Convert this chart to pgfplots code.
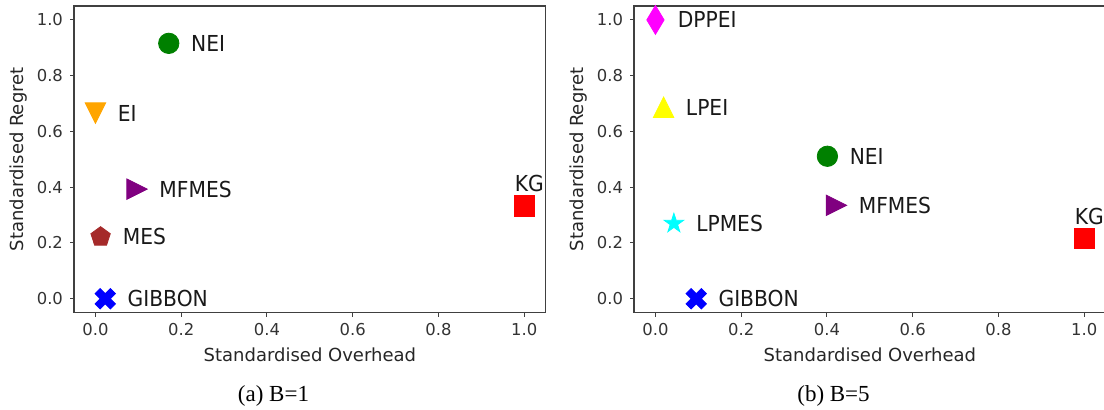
\documentclass[border=0pt]{standalone}
\usepackage{fontspec}
\setmainfont{DejaVu Sans}
\newfontfamily\annfont{DejaVu Sans}[FakeStretch=0.92]
\newfontfamily\capfont{Liberation Serif}
\usepackage{pgfplots}
\pgfplotsset{compat=1.18}

\definecolor{mgreen}{HTML}{008000}
\definecolor{morange}{HTML}{FFA500}
\definecolor{mpurple}{HTML}{800080}
\definecolor{mbrown}{HTML}{A52A2A}
\definecolor{mblue}{HTML}{0000FF}
\definecolor{mred}{HTML}{FF0000}
\definecolor{mmagenta}{HTML}{FF00FF}
\definecolor{myellow}{HTML}{FFFF00}
\definecolor{mcyan}{HTML}{00FFFF}

% matplotlib-like markers, \pgfplotmarksize = half the marker size
\pgfdeclareplotmark{mcircle}{\pgfpathcircle{\pgfpointorigin}{\pgfplotmarksize}\pgfusepathqfillstroke}
\pgfdeclareplotmark{msquare}{\pgfpathrectangle{\pgfpoint{-\pgfplotmarksize}{-\pgfplotmarksize}}{\pgfpoint{2\pgfplotmarksize}{2\pgfplotmarksize}}\pgfusepathqfillstroke}
\pgfdeclareplotmark{mtridown}{%
  \pgfpathmoveto{\pgfpoint{0pt}{-\pgfplotmarksize}}
  \pgfpathlineto{\pgfpoint{-\pgfplotmarksize}{\pgfplotmarksize}}
  \pgfpathlineto{\pgfpoint{\pgfplotmarksize}{\pgfplotmarksize}}
  \pgfpathclose\pgfusepathqfillstroke}
\pgfdeclareplotmark{mtriup}{%
  \pgfpathmoveto{\pgfpoint{0pt}{\pgfplotmarksize}}
  \pgfpathlineto{\pgfpoint{-\pgfplotmarksize}{-\pgfplotmarksize}}
  \pgfpathlineto{\pgfpoint{\pgfplotmarksize}{-\pgfplotmarksize}}
  \pgfpathclose\pgfusepathqfillstroke}
\pgfdeclareplotmark{mtriright}{%
  \pgfpathmoveto{\pgfpoint{\pgfplotmarksize}{0pt}}
  \pgfpathlineto{\pgfpoint{-\pgfplotmarksize}{\pgfplotmarksize}}
  \pgfpathlineto{\pgfpoint{-\pgfplotmarksize}{-\pgfplotmarksize}}
  \pgfpathclose\pgfusepathqfillstroke}
\pgfdeclareplotmark{mpent}{%
  \pgfpathmoveto{\pgfpointpolar{90}{\pgfplotmarksize}}
  \pgfpathlineto{\pgfpointpolar{162}{\pgfplotmarksize}}
  \pgfpathlineto{\pgfpointpolar{234}{\pgfplotmarksize}}
  \pgfpathlineto{\pgfpointpolar{306}{\pgfplotmarksize}}
  \pgfpathlineto{\pgfpointpolar{18}{\pgfplotmarksize}}
  \pgfpathclose\pgfusepathqfillstroke}
\pgfdeclareplotmark{mthindiamond}{%
  \pgfpathmoveto{\pgfpoint{0pt}{1.414\pgfplotmarksize}}
  \pgfpathlineto{\pgfpoint{-0.849\pgfplotmarksize}{0pt}}
  \pgfpathlineto{\pgfpoint{0pt}{-1.414\pgfplotmarksize}}
  \pgfpathlineto{\pgfpoint{0.849\pgfplotmarksize}{0pt}}
  \pgfpathclose\pgfusepathqfillstroke}
\pgfdeclareplotmark{mstar}{%
  \pgfpathmoveto{\pgfpointpolar{90}{\pgfplotmarksize}}
  \pgfpathlineto{\pgfpointpolar{126}{0.382\pgfplotmarksize}}
  \pgfpathlineto{\pgfpointpolar{162}{\pgfplotmarksize}}
  \pgfpathlineto{\pgfpointpolar{198}{0.382\pgfplotmarksize}}
  \pgfpathlineto{\pgfpointpolar{234}{\pgfplotmarksize}}
  \pgfpathlineto{\pgfpointpolar{270}{0.382\pgfplotmarksize}}
  \pgfpathlineto{\pgfpointpolar{306}{\pgfplotmarksize}}
  \pgfpathlineto{\pgfpointpolar{342}{0.382\pgfplotmarksize}}
  \pgfpathlineto{\pgfpointpolar{18}{\pgfplotmarksize}}
  \pgfpathlineto{\pgfpointpolar{54}{0.382\pgfplotmarksize}}
  \pgfpathclose\pgfusepathqfillstroke}
\pgfdeclareplotmark{mxfilled}{%
  \pgfpathmoveto{\pgfpoint{-0.5\pgfplotmarksize}{-\pgfplotmarksize}}
  \pgfpathlineto{\pgfpoint{0pt}{-0.5\pgfplotmarksize}}
  \pgfpathlineto{\pgfpoint{0.5\pgfplotmarksize}{-\pgfplotmarksize}}
  \pgfpathlineto{\pgfpoint{\pgfplotmarksize}{-0.5\pgfplotmarksize}}
  \pgfpathlineto{\pgfpoint{0.5\pgfplotmarksize}{0pt}}
  \pgfpathlineto{\pgfpoint{\pgfplotmarksize}{0.5\pgfplotmarksize}}
  \pgfpathlineto{\pgfpoint{0.5\pgfplotmarksize}{\pgfplotmarksize}}
  \pgfpathlineto{\pgfpoint{0pt}{0.5\pgfplotmarksize}}
  \pgfpathlineto{\pgfpoint{-0.5\pgfplotmarksize}{\pgfplotmarksize}}
  \pgfpathlineto{\pgfpoint{-\pgfplotmarksize}{0.5\pgfplotmarksize}}
  \pgfpathlineto{\pgfpoint{-0.5\pgfplotmarksize}{0pt}}
  \pgfpathlineto{\pgfpoint{-\pgfplotmarksize}{-0.5\pgfplotmarksize}}
  \pgfpathclose\pgfusepathqfillstroke}

\pgfplotsset{
  panel/.style={
    scale only axis, width=235.85pt, height=153.35pt,
    anchor=north west, clip=false,
    xmin=-0.05, xmax=1.05, ymin=-0.05, ymax=1.05,
    xtick={0,0.2,0.4,0.6,0.8,1.0}, ytick={0,0.2,0.4,0.6,0.8,1.0},
    tick pos=left, tick align=outside, major tick length=2pt,
    tick style={black!75, line width=0.5pt},
    axis line style={black!75, line width=0.6pt},
    /pgf/number format/.cd, fixed, fixed zerofill, precision=1, assume math mode=true, /pgfplots/.cd,
    tick label style={font=\fontsize{8.2}{9}\selectfont, text=black!80},
    xlabel={Standardised Overhead}, ylabel={Standardised Regret},
    every axis x label/.style={at={(rel axis cs:0.5,-0.138)}, anchor=center,
      font=\fontsize{9}{10}\selectfont, text=black!85},
    every axis y label/.style={at={(rel axis cs:-0.117,0.5)}, anchor=center, rotate=90,
      font=\fontsize{9}{10}\selectfont, text=black!85},
  },
  sc/.style 2 args={only marks, mark=#1, mark size=5.1pt, draw=#2, fill=#2, line width=0.4pt},
  lab/.style={nodes near coords={#1},
    every node near coord/.append style={anchor=west, inner sep=0pt, xshift=11pt,
      text=black!90, font=\annfont\fontsize{11}{12}\selectfont}},
  labtop/.style={nodes near coords={#1},
    every node near coord/.append style={anchor=south, inner sep=0pt, xshift=2.5pt, yshift=6.75pt,
      text=black!90, font=\annfont\fontsize{11}{12}\selectfont}},
}

\begin{document}
\begin{tikzpicture}
\useasboundingbox (0,0) rectangle (552pt,205pt);

% (a) B=1
\begin{axis}[panel, at={(37pt,202pt)}]
  \addplot[sc={mcircle}{mgreen}, lab=NEI] coordinates {(0.171,0.916)};
  \addplot[sc={mtridown}{morange}, lab=EI] coordinates {(0.0,0.666)};
  \addplot[sc={mtriright}{mpurple}, lab=MFMES] coordinates {(0.097,0.393)};
  \addplot[sc={mpent}{mbrown}, lab=MES] coordinates {(0.012,0.222)};
  \addplot[sc={mxfilled}{mblue}, lab=GIBBON] coordinates {(0.023,0.0)};
  \addplot[sc={msquare}{mred}, labtop=KG] coordinates {(1.0,0.333)};
  \node[anchor=base, font=\capfont\fontsize{11.5}{13}\selectfont] at (rel axis cs:0.423,-0.291) {(a) B=1};
\end{axis}

% (b) B=5
\begin{axis}[panel, at={(317pt,202pt)}]
  \addplot[sc={mthindiamond}{mmagenta}, lab=DPPEI] coordinates {(0.0,1.0)};
  \addplot[sc={mtriup}{myellow}, lab=LPEI] coordinates {(0.019,0.687)};
  \addplot[sc={mcircle}{mgreen}, lab=NEI] coordinates {(0.401,0.511)};
  \addplot[sc={mtriright}{mpurple}, lab=MFMES] coordinates {(0.422,0.335)};
  \addplot[sc={mstar}{mcyan}, lab=LPMES] coordinates {(0.043,0.270)};
  \addplot[sc={mxfilled}{mblue}, lab=GIBBON] coordinates {(0.095,0.0)};
  \addplot[sc={msquare}{mred}, labtop=KG] coordinates {(1.0,0.216)};
  \node[anchor=base, font=\capfont\fontsize{11.5}{13}\selectfont] at (rel axis cs:0.423,-0.291) {(b) B=5};
\end{axis}
\end{tikzpicture}
\end{document}
